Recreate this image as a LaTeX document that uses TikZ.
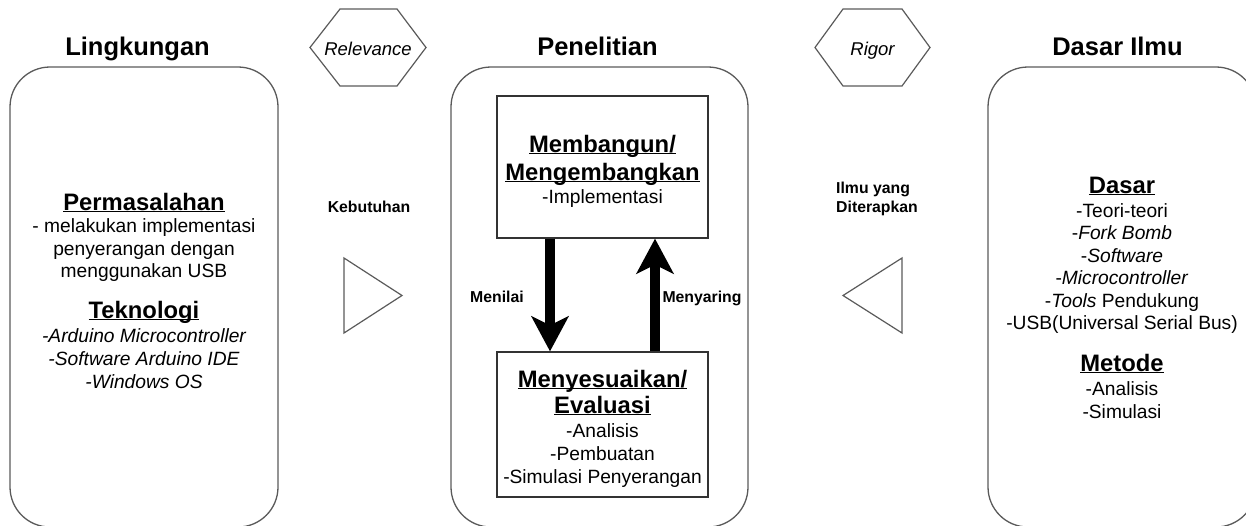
\documentclass[tikz,border=0pt]{standalone}
\usepackage{fontspec}
\setmainfont{Liberation Sans}
\usetikzlibrary{arrows.meta}
\newcommand\ulx[1]{\setbox0\hbox{#1}\rlap{\rule[-2.4pt]{\wd0}{1.6pt}}\box0}
\definecolor{edgegray}{HTML}{5A5A5A}
\definecolor{boxgray}{HTML}{333333}
\tikzset{
  title/.style={font=\fontsize{25.5}{28}\selectfont\bfseries, anchor=base, inner sep=0pt},
  head/.style={font=\fontsize{23.8}{27}\selectfont\bfseries, anchor=base, inner sep=0pt},
  body/.style={font=\fontsize{19.2}{22.5}\selectfont, anchor=base, inner sep=0pt},
  lab/.style={font=\fontsize{15.8}{18}\selectfont\bfseries, anchor=base, inner sep=0pt},
  tag/.style={font=\fontsize{18.5}{21}\selectfont\itshape, anchor=base, inner sep=0pt},
  outerbox/.style={draw=edgegray, line width=1.3pt, rounded corners=40pt, minimum width=268pt, minimum height=460pt, inner sep=0pt},
  innerbox/.style={draw=boxgray, line width=1.3pt, minimum width=211pt, inner sep=0pt},
  shp/.style={draw=edgegray, line width=1.2pt, line join=miter},
  bigarrow/.style={line width=10pt, -{Stealth[length=35pt,width=37pt,inset=9pt]}},
}
\begin{document}
\begin{tikzpicture}[x=1pt,y=-1pt]
\useasboundingbox (0,0) rectangle (1246,525);

% outer containers
\node[outerbox] (env) at (144,297) {};
\node[outerbox, minimum width=297pt] (res) at (599.5,297) {};
\node[outerbox] (kb) at (1122,297) {};

% titles
\node[title] (t1) at (137.5,55) {Lingkungan};
\node[title] (t2) at (597.5,55) {Penelitian};
\node[title] (t3) at (1117.5,55) {Dasar Ilmu};

% hexagons
\draw[shp] (310,47.5) -- (340,9) -- (397,9) -- (426,47.5) -- (397,86) -- (340,86) -- cycle;
\node[tag] (relv) at (368,55) {Relevance};
\draw[shp] (815,47.5) -- (843,9) -- (902,9) -- (930,47.5) -- (902,86) -- (843,86) -- cycle;
\node[tag] (rig) at (872.5,55) {Rigor};

% triangles
\draw[shp] (344,258) -- (402,295.5) -- (344,333) -- cycle;
\draw[shp] (902,258) -- (843,295.5) -- (902,333) -- cycle;

% side labels
\node[lab] (keb) at (369,212) {Kebutuhan};
\node[lab, anchor=base west] (ilmu1) at (836,193) {Ilmu yang};
\node[lab, anchor=base west] (ilmu2) at (836,212) {Diterapkan};

% left content
\node[head] (perm) at (144,210) {\ulx{Permasalahan}};
\node[body] (p1) at (144,232) {- melakukan implementasi};
\node[body] (p2) at (144,255) {penyerangan dengan};
\node[body] (p3) at (144,277) {menggunakan USB};
\node[head] (tek) at (144,318) {\ulx{Teknologi}};
\node[body] (k1) at (144,342) {\itshape -Arduino Microcontroller};
\node[body] (k2) at (144,365) {\itshape -Software Arduino IDE};
\node[body] (k3) at (144,388) {\itshape -Windows OS};

% middle inner boxes
\node[innerbox, minimum height=142pt] (tb) at (602.5,167) {};
\node[innerbox, minimum height=145pt] (bb) at (602.5,424.5) {};
\node[head] (m1) at (602.5,152) {\ulx{Membangun/}};
\node[head] (m2) at (602.5,180) {\ulx{Mengembangkan}};
\node[body] (m3) at (602.5,203) {-Implementasi};
\node[head] (e1) at (602.5,387) {\ulx{Menyesuaikan/}};
\node[head] (e2) at (602.5,413) {\ulx{Evaluasi}};
\node[body] (e3) at (602.5,437) {-Analisis};
\node[body] (e4) at (602.5,460) {-Pembuatan};
\node[body] (e5) at (602.5,483) {-Simulasi Penyerangan};

% arrows between inner boxes
\coordinate (dn) at (550,0);
\coordinate (up) at (655,0);
\draw[bigarrow] (tb.south -| dn) -- (bb.north -| dn);
\draw[bigarrow] (bb.north -| up) -- (tb.south -| up);
\node[lab] (nil) at (497,302) {Menilai};
\node[lab] (sar) at (702,302) {Menyaring};

% right content
\node[head] (das) at (1122,193) {\ulx{Dasar}};
\node[body] (d1) at (1122,217) {-Teori-teori};
\node[body] (d2) at (1122,239) {-\textit{Fork Bomb}};
\node[body] (d3) at (1122,262) {-\textit{Software}};
\node[body] (d4) at (1122,284) {-\textit{Microcontroller}};
\node[body] (d5) at (1122,307) {-\textit{Tools} Pendukung};
\node[body] (d6) at (1122,329) {-USB(Universal Serial Bus)};
\node[head] (met) at (1122,371) {\ulx{Metode}};
\node[body] (d7) at (1122,395) {-Analisis};
\node[body] (d8) at (1122,418) {-Simulasi};
\end{tikzpicture}
\end{document}
